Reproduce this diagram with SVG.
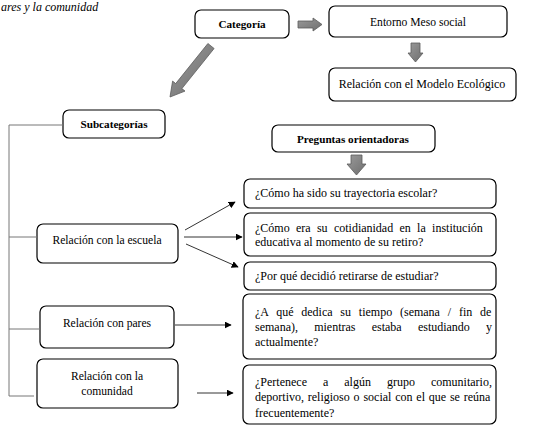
<svg xmlns="http://www.w3.org/2000/svg" width="540" height="433" viewBox="0 0 540 433">
<defs>
<marker id="ah" viewBox="0 0 10 10" refX="9" refY="5" markerWidth="7" markerHeight="7" markerUnits="userSpaceOnUse" orient="auto">
<path d="M0,0 L10,5 L0,10 Z" fill="#000"/>
</marker>
<linearGradient id="g" x1="0" y1="0" x2="1" y2="1">
<stop offset="0" stop-color="#9a9a9a"/>
<stop offset="1" stop-color="#6e6e6e"/>
</linearGradient>
</defs>
<style>
.box{fill:#fff;stroke:#000;stroke-width:1.2}
.t{font-size:12px;fill:#000}
.s{font-size:11.6px}
.b{font-weight:bold;font-size:11.2px}
.c{text-anchor:middle}
.ln{stroke:#000;stroke-width:0.8;fill:none}
.gl{stroke:#777;stroke-width:1;fill:none}
.blk{fill:url(#g);stroke:#5c5c5c;stroke-width:0.8}
</style>
<rect width="540" height="433" fill="#fff"/>
<g font-family="Liberation Serif, Times New Roman, DejaVu Serif, serif">
<text class="t" x="1" y="11" font-style="italic" font-size="10">ares y la comunidad</text>

<g id="categoria"><rect class="box" x="195" y="10" width="94" height="28" rx="6"/><text class="t b c" x="242" y="28">Categoría</text></g>
<g id="entorno"><rect class="box" x="329" y="6" width="178" height="31" rx="6"/><text class="t s c" x="418" y="26">Entorno Meso social</text></g>
<g id="modelo"><rect class="box" x="329" y="68" width="187" height="33" rx="6"/><text class="t c" x="422" y="88" font-size="11.5">Relación con el Modelo Ecológico</text></g>
<g id="subcategorias"><rect class="box" x="63" y="110" width="102" height="28" rx="6"/><text class="t b c" x="114" y="128">Subcategorías</text></g>
<g id="preguntas"><rect class="box" x="272" y="125" width="163" height="27" rx="6"/><text class="t b c" x="353" y="143">Preguntas orientadoras</text></g>

<g id="escuela"><rect class="box" x="37" y="224" width="141" height="39" rx="6"/><text class="t s c" x="107" y="244">Relación con la escuela</text></g>
<g id="pares"><rect class="box" x="40" y="306" width="134" height="42" rx="6"/><text class="t s c" x="107" y="327">Relación con pares</text></g>
<g id="comunidad"><rect class="box" x="37" y="359" width="141" height="49" rx="6"/><text class="t s c" x="107" y="380">Relación con la</text><text class="t s c" x="107" y="395">comunidad</text></g>

<g id="q1"><rect class="box" x="244" y="179" width="252" height="29" rx="6"/><text class="t" x="255" y="197">¿Cómo ha sido su trayectoria escolar?</text></g>
<g id="q2"><rect class="box" x="244" y="213" width="252" height="43" rx="6"/><text class="t" x="255" y="232" word-spacing="3.3">¿Cómo era su cotidianidad en la institución</text><text class="t" x="255" y="246">educativa al momento de su retiro?</text></g>
<g id="q3"><rect class="box" x="244" y="262" width="252" height="28" rx="6"/><text class="t" x="255" y="280">¿Por qué decidió retirarse de estudiar?</text></g>
<g id="q4"><rect class="box" x="243" y="294" width="253" height="65" rx="6"/><text class="t" x="255" y="316" word-spacing="4.8">¿A qué dedica su tiempo (semana / fin de</text><text class="t" x="255" y="331" word-spacing="13.2">semana), mientras estaba estudiando y</text><text class="t" x="255" y="346">actualmente?</text></g>
<g id="q5"><rect class="box" x="243" y="365" width="253" height="59" rx="6"/><text class="t" x="255" y="386" word-spacing="13">¿Pertenece a algún grupo comunitario,</text><text class="t" x="255" y="401" word-spacing="0.8">deportivo, religioso o social con el que se reúna</text><text class="t" x="255" y="417">frecuentemente?</text></g>
</g>

<g id="connectors">
<polygon class="blk" points="298,21 313,21 313,18 322,24.5 313,31 313,28 298,28"/>
<polygon class="blk" points="411,43 420,43 420,53 423,53 415.5,62 408,53 411,53"/>
<polygon class="blk" points="351,155 362,155 362,164 366,164 356.5,175 347,164 351,164"/>
<polygon class="blk" points="214.1,48.5 181.9,88.6 185,91.1 170,97 172.6,81.1 175.7,83.6 207.9,43.5"/>
<path class="gl" d="M63,125 H9 V396 H34"/>
<path class="gl" d="M9,237 H37"/>
<path class="gl" d="M9,329 H40"/>
<line class="ln" x1="185" y1="230" x2="235" y2="202" marker-end="url(#ah)"/>
<line class="ln" x1="184" y1="237" x2="242" y2="237" marker-end="url(#ah)"/>
<line class="ln" x1="186" y1="244" x2="238" y2="267" marker-end="url(#ah)"/>
<line class="ln" x1="175" y1="325" x2="231" y2="325" marker-end="url(#ah)"/>
<line class="ln" x1="197" y1="393" x2="233" y2="393" marker-end="url(#ah)"/>
</g>
</svg>
